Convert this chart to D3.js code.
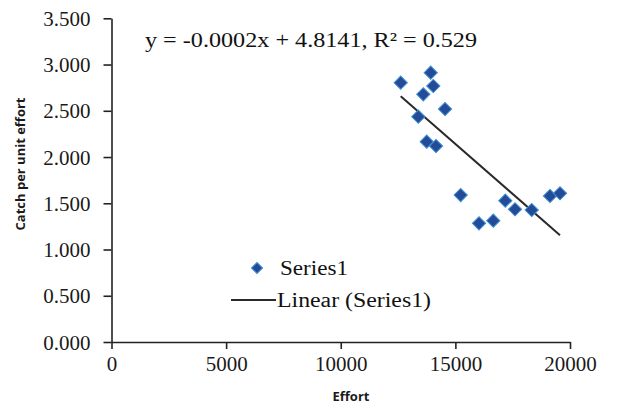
<!DOCTYPE html>
<html>
<head>
<meta charset="utf-8">
<script src="https://cdn.jsdelivr.net/npm/d3@7"></script>
<style>
  html, body { margin: 0; padding: 0; background: #fff; }
  svg { display: block; }
</style>
</head>
<body>
<svg id="chart" width="623" height="408"></svg>
<script>
// ---- data ----
const effort = [12615, 13924, 14037, 13601, 14548, 13383, 13749, 14155, 15232, 16031, 16654, 17178, 17601, 18330, 19128, 19564];
const cpue   = [2.804, 2.912, 2.768, 2.678, 2.519, 2.436, 2.166, 2.119, 1.589, 1.283, 1.312, 1.528, 1.435, 1.427, 1.579, 1.608];
const xTicks = [0, 5000, 10000, 15000, 20000];
const yTicks = [0, 0.5, 1, 1.5, 2, 2.5, 3, 3.5];
const seriesName = "Series1";
const trendName = "Linear (Series1)";
const equationLabel = "y = -0.0002x + 4.8141, R² = 0.529";
const xTitle = "Effort";
const yTitle = "Catch per unit effort";

const svg = d3.select("#chart");
const x = d3.scaleLinear().domain([0, 20000]).range([111.5, 570]);
const y = d3.scaleLinear().domain([0, 3.5]).range([342, 18.3]);

const serif = "'Liberation Serif', 'Times New Roman', serif";
const axisColor = "#222";

// axes
const xAxis = svg.append("g").attr("transform", `translate(0,${y(0)})`)
  .call(d3.axisBottom(x).tickValues(xTicks).tickFormat(d3.format("d")).tickSize(7).tickSizeOuter(0));
const yAxis = svg.append("g").attr("transform", `translate(${x(0)},0)`)
  .call(d3.axisLeft(y).tickValues(yTicks).tickFormat(d3.format(".3f")).tickSize(8).tickSizeOuter(0));

[xAxis, yAxis].forEach(g => {
  g.select(".domain").attr("stroke", axisColor).attr("stroke-width", 1.6);
  g.selectAll(".tick line").attr("stroke", axisColor).attr("stroke-width", 1.6);
  g.selectAll(".tick text").attr("fill", "#1a1a1a")
    .style("font-family", serif).style("font-size", "21px");
});
xAxis.selectAll(".tick text").attr("dy", "0.71em").attr("y", 14);
yAxis.selectAll(".tick text").attr("x", -21).attr("dy", "0.34em");

// axis titles
svg.append("text").text(xTitle)
  .attr("x", 351).attr("y", 401).attr("text-anchor", "middle")
  .style("font-family", "'Open Sans', 'Liberation Sans', sans-serif")
  .style("font-weight", "bold").style("font-size", "13px").attr("fill", "#1a1a1a");
svg.append("text").text(yTitle)
  .attr("transform", `translate(25,164) rotate(-90)`).attr("text-anchor", "middle")
  .style("font-family", "'Open Sans', 'Liberation Sans', sans-serif")
  .style("font-weight", "bold").style("font-size", "13px").attr("fill", "#1a1a1a");

// linear regression from the data
const n = effort.length;
const mx = d3.mean(effort), my = d3.mean(cpue);
let sxy = 0, sxx = 0;
for (let i = 0; i < n; i++) { sxy += (effort[i] - mx) * (cpue[i] - my); sxx += (effort[i] - mx) ** 2; }
const slope = sxy / sxx, intercept = my - slope * mx;
const [x0, x1] = d3.extent(effort);
svg.append("line")
  .attr("x1", x(x0)).attr("y1", y(intercept + slope * x0))
  .attr("x2", x(x1)).attr("y2", y(intercept + slope * x1))
  .attr("stroke", "#2a2a2a").attr("stroke-width", 2);

// points
const sym = d3.symbol().type(d3.symbolSquare).size(88);
svg.append("g").selectAll("path").data(effort.map((e, i) => [e, cpue[i]])).join("path")
  .attr("d", sym)
  .attr("transform", d => `translate(${x(d[0])},${y(d[1])}) rotate(45)`)
  .attr("fill", "#234b97").attr("stroke", "#3f8fd2").attr("stroke-width", 1);

// equation label
svg.append("text").text(equationLabel)
  .attr("x", 145).attr("y", 47)
  .attr("textLength", 332).attr("lengthAdjust", "spacingAndGlyphs")
  .style("font-family", serif).style("font-size", "21px").attr("fill", "#111");

// legend
const lg = svg.append("g");
lg.append("path").attr("d", d3.symbol().type(d3.symbolSquare).size(62))
  .attr("transform", "translate(257,268) rotate(45)")
  .attr("fill", "#234b97").attr("stroke", "#3f8fd2").attr("stroke-width", 1);
lg.append("text").text(seriesName).attr("x", 280).attr("y", 275)
  .attr("textLength", 68).attr("lengthAdjust", "spacingAndGlyphs")
  .style("font-family", serif).style("font-size", "20px").attr("fill", "#111");
lg.append("line").attr("x1", 231).attr("x2", 276).attr("y1", 300).attr("y2", 300)
  .attr("stroke", "#2a2a2a").attr("stroke-width", 1.8);
lg.append("text").text(trendName).attr("x", 277).attr("y", 307)
  .attr("textLength", 154).attr("lengthAdjust", "spacingAndGlyphs")
  .style("font-family", serif).style("font-size", "20px").attr("fill", "#111");
</script>
</body>
</html>
